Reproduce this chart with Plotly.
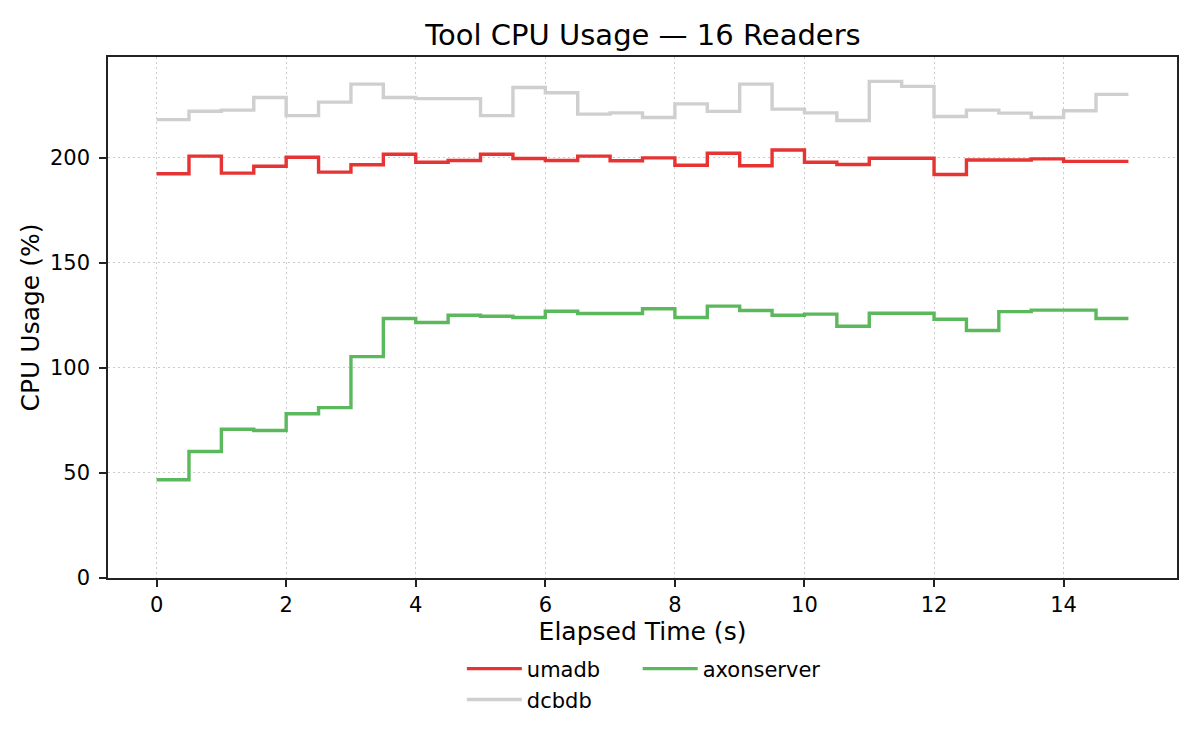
import plotly.graph_objects as go

time_s = [0, 0.5, 1, 1.5, 2, 2.5, 3, 3.5, 4, 4.5, 5, 5.5, 6, 6.5, 7, 7.5,
          8, 8.5, 9, 9.5, 10, 10.5, 11, 11.5, 12, 12.5, 13, 13.5, 14, 14.5, 15]

umadb = [192.4, 200.8, 192.7, 196.0, 200.3, 193.2, 196.7, 201.7, 197.9, 198.7,
         201.7, 199.7, 198.7, 200.8, 198.6, 200.0, 196.5, 202.2, 196.2, 203.7,
         197.9, 196.8, 199.8, 199.8, 192.1, 199.0, 199.0, 199.5, 198.3, 198.3, 198.3]

dcbdb = [218.2, 222.2, 222.7, 228.7, 220.1, 226.5, 235.1, 228.7, 228.2, 228.2,
         220.1, 233.5, 231.0, 220.8, 221.4, 219.2, 225.7, 222.1, 235.1, 223.2,
         221.4, 217.8, 236.4, 234.0, 219.7, 222.7, 221.3, 219.2, 222.4, 230.2, 230.2]

axonserver = [46.8, 60.2, 70.8, 70.2, 78.2, 81.1, 105.4, 123.5, 121.6, 125.1,
              124.6, 124.0, 127.0, 125.9, 125.9, 128.2, 124.0, 129.4, 127.3, 125.1,
              125.6, 119.8, 126.0, 126.0, 123.2, 117.8, 126.8, 127.5, 127.5, 123.5, 123.5]

series = [
    ("umadb", umadb, "#e63333", "legend"),
    ("dcbdb", dcbdb, "#cfcfcf", "legend2"),
    ("axonserver", axonserver, "#5cb85c", "legend3"),
]

FONT = "DejaVu Sans"
W, H = 1184, 734  # page body has an 8px margin

fig = go.Figure()
for name, vals, color, lg in series:
    fig.add_trace(go.Scatter(
        x=time_s, y=vals, mode="lines", name=name,
        line=dict(color=color, width=3.4, shape="hv"),
        legend=lg,
    ))

leg_common = dict(
    font=dict(family=FONT, size=21, color="black"),
    bgcolor="rgba(0,0,0,0)", borderwidth=0,
    xanchor="left", yanchor="middle", itemwidth=55,
    orientation="v",
)

fig.update_layout(
    width=W, height=H,
    paper_bgcolor="white", plot_bgcolor="white",
    margin=dict(l=100, r=15, t=49, b=164),
    font=dict(family=FONT, size=21, color="black"),
    title=dict(text="Tool CPU Usage — 16 Readers", x=(643 - 8) / W, xanchor="center",
               y=1 - 27 / H, yanchor="middle",
               font=dict(family=FONT, size=29, color="black")),
    legend=dict(x=0.331, y=-0.1747, **leg_common),
    legend2=dict(x=0.331, y=-0.234, **leg_common),
    legend3=dict(x=0.4955, y=-0.1747, **leg_common),
    showlegend=True,
)

axis_common = dict(
    showline=True, mirror=True, linecolor="#222222", linewidth=1.6,
    ticks="outside", ticklen=7, tickwidth=1.6, tickcolor="#222222",
    showgrid=True, gridcolor="#cccccc", gridwidth=1, griddash="2px,3px",
    zeroline=False,
    tickfont=dict(family=FONT, size=21, color="black"),
)

fig.update_xaxes(
    range=[-0.75, 15.75], tickmode="array",
    tickvals=[0, 2, 4, 6, 8, 10, 12, 14],
    ticklabelstandoff=0,
    title=dict(text="Elapsed Time (s)", font=dict(family=FONT, size=25, color="black"),
               standoff=5),
    **axis_common,
)
fig.update_yaxes(
    range=[0, 248], tickmode="array",
    tickvals=[0, 50, 100, 150, 200],
    ticklabelstandoff=5,
    title=dict(text="CPU Usage (%)", font=dict(family=FONT, size=25, color="black"),
               standoff=3),
    **axis_common,
)

fig.write_html("out.html")
